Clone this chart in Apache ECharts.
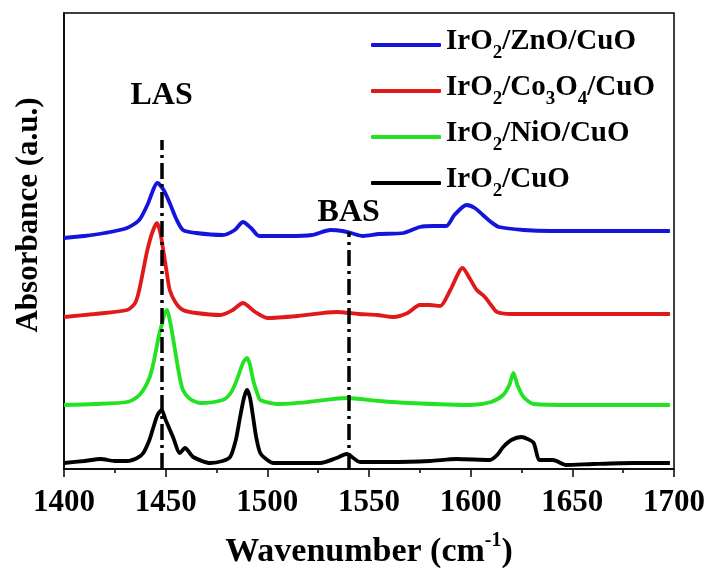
<!DOCTYPE html>
<html>
<head>
<meta charset="utf-8">
<script src="https://cdn.jsdelivr.net/npm/echarts@6/dist/echarts.min.js"></script>
<style>
html,body{margin:0;padding:0;background:#fff;}
#chart{width:712px;height:570px;}
</style>
</head>
<body>
<div id="chart"></div>
<script>
// Wavenumber (cm-1) and absorbance (a.u., offset) for each spectrum
var znoX = [1400,1410,1420,1431,1437,1441,1446,1449,1452,1455,1458.5,1465,1478,1484,1488,1492,1496,1510,1522,1531,1537,1541,1547,1555,1567,1575,1582,1588,1592,1598,1602,1606,1610,1614,1626,1640,1660,1680,1698];
var znoY = [2.31,2.33,2.36,2.41,2.49,2.64,2.86,2.79,2.66,2.51,2.39,2.36,2.34,2.39,2.47,2.41,2.33,2.33,2.34,2.39,2.38,2.36,2.33,2.35,2.36,2.42,2.43,2.43,2.54,2.64,2.61,2.54,2.47,2.42,2.39,2.38,2.38,2.38,2.38];

var coX = [1400,1415,1431,1435,1437,1439,1441,1443.5,1445.7,1447.3,1448.8,1450.5,1452,1455,1458.5,1465,1477,1483,1488,1494,1500,1515,1534,1545,1554,1562,1569,1575,1580,1585,1590,1596,1600,1603,1607,1610,1613,1620,1640,1660,1680,1698];
var coY = [1.52,1.55,1.59,1.66,1.79,1.99,2.19,2.37,2.46,2.37,2.19,1.97,1.79,1.66,1.59,1.56,1.54,1.59,1.66,1.57,1.51,1.53,1.57,1.55,1.54,1.52,1.56,1.64,1.64,1.63,1.79,2.01,1.89,1.79,1.72,1.64,1.57,1.55,1.55,1.55,1.55,1.55];

var nioX = [1400,1415,1431,1436,1439,1442,1444,1447,1450.6,1452.5,1454.6,1456.5,1458.5,1462,1467,1478,1482,1485,1488,1490,1491.5,1493,1495,1496.5,1505,1520,1539,1555,1570,1600,1610,1616,1619,1621,1623,1626,1631,1650,1670,1698];
var nioY = [0.64,0.65,0.67,0.72,0.79,0.91,1.06,1.36,1.59,1.44,1.19,0.96,0.79,0.70,0.66,0.69,0.76,0.89,1.06,1.11,1.04,0.89,0.76,0.69,0.65,0.67,0.71,0.68,0.66,0.64,0.67,0.74,0.84,0.96,0.84,0.72,0.65,0.64,0.64,0.64];

var cuoX = [1400,1410,1418,1425,1431,1436,1439,1442,1444,1446,1448,1450,1453.6,1457,1459.5,1463.5,1472,1478,1481.7,1484.5,1486.6,1488.5,1490,1491.5,1493,1494.5,1496.5,1500,1503,1526,1534,1539,1545.6,1560,1580,1593,1609.5,1613,1616,1620,1625,1628,1631,1634,1640.5,1647,1660,1680,1698];
var cuoY = [0.06,0.08,0.10,0.08,0.08,0.11,0.16,0.29,0.42,0.54,0.59,0.49,0.32,0.16,0.21,0.12,0.06,0.08,0.12,0.29,0.52,0.71,0.79,0.71,0.52,0.32,0.16,0.09,0.06,0.06,0.11,0.15,0.07,0.07,0.08,0.10,0.09,0.14,0.22,0.29,0.32,0.30,0.26,0.09,0.09,0.04,0.05,0.06,0.06];

// Reference bands: name, wavenumber, top of the marker line
var bandNames = ['LAS','BAS'];
var bandPos = [1448,1540];
var bandTop = [3.29,2.37];

var seriesNames = ['IrO2/ZnO/CuO','IrO2/Co3O4/CuO','IrO2/NiO/CuO','IrO2/CuO'];
var legendRich = {
  'IrO2/ZnO/CuO':'{m|IrO}{s|2}{m|/ZnO/CuO}',
  'IrO2/Co3O4/CuO':'{m|IrO}{s|2}{m|/Co}{s|3}{m|O}{s|4}{m|/CuO}',
  'IrO2/NiO/CuO':'{m|IrO}{s|2}{m|/NiO/CuO}',
  'IrO2/CuO':'{m|IrO}{s|2}{m|/CuO}'
};
var colors = ['#1414dc','#e01a1a','#22e222','#000000'];

var FONT = 'Liberation Serif';
function pairs(xs, ys){ return xs.map(function(x,i){return [x, ys[i]];}); }

var labelDist = [28, 3];
var markData = bandNames.map(function(n,i){
  return [{name:n, coord:[bandPos[i],0], label:{distance: labelDist[i]}},{coord:[bandPos[i],bandTop[i]]}];
});

var allX = [znoX, coX, nioX, cuoX];
var allY = [znoY, coY, nioY, cuoY];

var series = seriesNames.map(function(name,i){
  var s = {
    name: name,
    type: 'line',
    data: pairs(allX[i], allY[i]),
    showSymbol: false,
    smooth: 0.25,
    lineStyle: {width: 3.8, color: colors[i]},
    itemStyle: {color: colors[i]},
    z: 2 + i
  };
  if (i === 3) {
    s.markLine = {
      silent: true,
      symbol: ['none','none'],
      animation: false,
      lineStyle: {color:'#000', width:3.5, type:[16,5,3,5]},
      label: {
        show: true, position: 'end', formatter: '{b}',
        fontFamily: FONT, fontWeight: 'bold', fontSize: 32, color: '#000'
      },
      emphasis: {disabled: true},
      data: markData
    };
  }
  return s;
});

var chart = echarts.init(document.getElementById('chart'), null, {renderer:'canvas'});
chart.setOption({
  animation: false,
  backgroundColor: '#fff',
  grid: {left: 64, right: 38, top: 13, bottom: 101, show: true, borderColor: '#000', borderWidth: 1.5,
    backgroundColor: 'transparent', containLabel: false, outerBoundsMode: 'none'},
  legend: {
    orient: 'vertical',
    left: 371, top: 27,
    padding: 0,
    itemGap: 10,
    itemWidth: 70, itemHeight: 4,
    icon: 'roundRect',
    selectedMode: false,
    data: seriesNames,
    formatter: function(n){ return legendRich[n]; },
    textStyle: {
      fontFamily: FONT, fontWeight: 'bold', fontSize: 29, color: '#000',
      rich: {
        m: {fontFamily: FONT, fontWeight: 'bold', fontSize: 29, color: '#000', lineHeight: 36, verticalAlign: 'top'},
        s: {fontFamily: FONT, fontWeight: 'bold', fontSize: 19, color: '#000', lineHeight: 16, verticalAlign: 'bottom'}
      }
    }
  },
  xAxis: {
    type: 'value', min: 1400, max: 1700, interval: 50,
    name: '{n|Wavenumber (cm}{p|-1}{n|)}',
    nameLocation: 'middle', nameGap: 62,
    nameTextStyle: {
      rich: {
        n: {fontFamily: FONT, fontWeight: 'bold', fontSize: 34, color: '#000', lineHeight: 38, verticalAlign: 'bottom'},
        p: {fontFamily: FONT, fontWeight: 'bold', fontSize: 20, color: '#000', lineHeight: 36, verticalAlign: 'top'}
      }
    },
    axisLine: {show: true, lineStyle: {color: '#000', width: 1.5}},
    axisTick: {show: true, length: 8, lineStyle: {color: '#000', width: 1.5}},
    minorTick: {show: true, splitNumber: 2, length: 4, lineStyle: {color: '#000', width: 1.5}},
    axisLabel: {fontFamily: FONT, fontWeight: 'bold', fontSize: 31, color: '#000', margin: 18,
      formatter: function(v){ return String(v); }},
    splitLine: {show: false}
  },
  yAxis: {
    type: 'value', min: 0, max: 4.56,
    name: 'Absorbance (a.u.)',
    nameLocation: 'middle', nameGap: 20,
    nameTextStyle: {fontFamily: FONT, fontWeight: 'bold', fontSize: 31, color: '#000', padding: [0,0,0,52]},
    axisLine: {show: true, lineStyle: {color: '#000', width: 1.5}},
    axisTick: {show: false},
    axisLabel: {show: false},
    splitLine: {show: false}
  },
  series: series
});
</script>
</body>
</html>
